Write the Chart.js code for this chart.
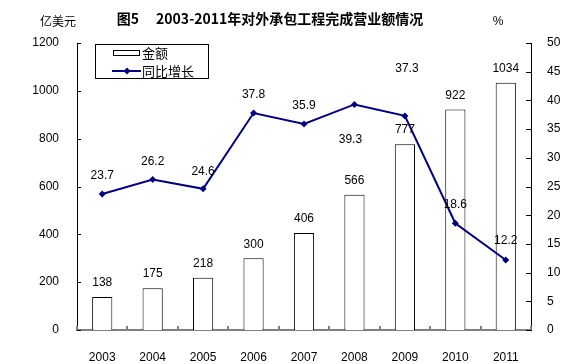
<!DOCTYPE html>
<html>
<head>
<meta charset="utf-8">
<script src="https://cdn.jsdelivr.net/npm/chart.js@4/dist/chart.umd.min.js"></script>
<style>
html,body{margin:0;padding:0;background:#fff;}
canvas{display:block;}
</style>
</head>
<body>
<canvas id="c" width="568" height="364"></canvas>
<script>
const years = ['2003','2004','2005','2006','2007','2008','2009','2010','2011'];
const amounts = [138,175,218,300,406,566,777,922,1034];
const growth = [23.7,26.2,24.6,37.8,35.9,39.3,37.3,18.6,12.2];
const leftTicks = [0,200,400,600,800,1000,1200];
const rightTicks = [0,5,10,15,20,25,30,35,40,45,50];
const titleText = '图5\u3000 2003-2011年对外承包工程完成营业额情况';
const leftUnit = '亿美元';
const rightUnit = '%';
const seriesNames = ['金额','同比增长'];

// label placement offsets (style, not data)
const growthLabelDx = [0,0,0,0,0,-4,2,0,0];
const growthLabelDy = [-18,-18,-17,-18,-18,35,-47,-19,-19];

const NUM_FONT = '12px "Liberation Sans", Arial, sans-serif';
const CJK_FONT = '"Noto Sans CJK SC", sans-serif';

const decorPlugin = {
  id: 'decor',
  afterDraw(chart) {
    const ctx = chart.ctx;
    const a = chart.chartArea;
    ctx.save();
    const y = chart.scales.y, y1 = chart.scales.y1;
    ctx.strokeStyle = '#000';
    ctx.lineWidth = 1;
    ctx.beginPath();
    leftTicks.forEach(v => {
      const py = Math.round(y.getPixelForValue(v)) + 0.5;
      ctx.moveTo(a.left, py); ctx.lineTo(a.left + 4, py);
    });
    rightTicks.forEach(v => {
      const py = Math.round(y1.getPixelForValue(v)) + 0.5;
      ctx.moveTo(a.right - 5, py); ctx.lineTo(a.right, py);
    });
    ctx.stroke();
    ctx.strokeStyle = '#808080';
    ctx.lineWidth = 2;
    ctx.beginPath();
    const n = years.length;
    for (let i = 0; i <= n; i++) {
      const px = Math.round(a.left + i * (a.right - a.left) / n);
      ctx.moveTo(px, a.bottom); ctx.lineTo(px, a.bottom - 4);
    }
    ctx.stroke();

    ctx.fillStyle = '#000';
    ctx.font = NUM_FONT;
    ctx.textAlign = 'center';
    ctx.textBaseline = 'middle';
    chart.getDatasetMeta(0).data.forEach((el, i) => {
      ctx.fillText(String(amounts[i]), el.x, el.y - 14);
    });
    chart.getDatasetMeta(1).data.forEach((el, i) => {
      ctx.fillText(growth[i].toFixed(1), el.x + growthLabelDx[i], el.y + growthLabelDy[i]);
    });

    ctx.font = 'bold 14px ' + CJK_FONT;
    ctx.fillText(titleText, 270, 19);
    ctx.font = '12px ' + CJK_FONT;
    ctx.fillText(leftUnit, 58, 21);
    ctx.font = NUM_FONT;
    ctx.fillText(rightUnit, 498, 22);

    ctx.strokeStyle = '#000';
    ctx.lineWidth = 1;
    ctx.fillStyle = '#fff';
    ctx.fillRect(95.5, 44.5, 113, 34);
    ctx.strokeRect(95.5, 44.5, 113, 34);
    ctx.strokeRect(113.5, 50.5, 26, 5);
    ctx.fillStyle = '#000';
    ctx.textAlign = 'left';
    ctx.font = '13px ' + CJK_FONT;
    ctx.fillText(seriesNames[0], 142, 53);
    ctx.fillText(seriesNames[1], 142, 71);
    ctx.strokeStyle = '#000080';
    ctx.lineWidth = 2;
    ctx.beginPath(); ctx.moveTo(112, 71); ctx.lineTo(141, 71); ctx.stroke();
    ctx.fillStyle = '#000080';
    ctx.beginPath();
    ctx.moveTo(127, 67.5); ctx.lineTo(130.5, 71); ctx.lineTo(127, 74.5); ctx.lineTo(123.5, 71); ctx.closePath();
    ctx.fill();
    ctx.restore();
  }
};

const plainTick = v => String(v);

new Chart(document.getElementById('c'), {
  data: {
    labels: years,
    datasets: [
      {
        type: 'bar',
        label: seriesNames[0],
        data: amounts,
        yAxisID: 'y',
        backgroundColor: '#ffffff',
        borderColor: '#000000',
        borderWidth: 1,
        categoryPercentage: 1.0,
        barPercentage: 0.4,
        order: 2
      },
      {
        type: 'line',
        label: seriesNames[1],
        data: growth,
        yAxisID: 'y1',
        borderColor: '#000080',
        backgroundColor: '#000080',
        borderWidth: 2,
        pointStyle: 'rectRot',
        pointRadius: 3.5,
        pointBackgroundColor: '#000080',
        pointBorderColor: '#000080',
        pointBorderWidth: 0,
        tension: 0,
        order: 1
      }
    ]
  },
  options: {
    responsive: false,
    animation: false,
    devicePixelRatio: 1,
    layout: { padding: { top: 43, left: 0, right: 0, bottom: 0 } },
    plugins: { legend: { display: false }, tooltip: { enabled: false }, title: { display: false } },
    scales: {
      x: {
        type: 'category',
        offset: true,
        grid: { display: false },
        border: { display: true, color: '#808080', width: 2 },
        ticks: { color: '#000', font: { family: '"Liberation Sans", Arial, sans-serif', size: 12 }, padding: 12, maxRotation: 0 },
        afterFit(s) { s.height = 34; }
      },
      y: {
        position: 'left',
        min: 0, max: 1200,
        afterBuildTicks(s) { s.ticks = leftTicks.map(v => ({ value: v })); },
        grid: { display: false },
        border: { display: true, color: '#000', width: 1 },
        ticks: { color: '#000', font: { family: '"Liberation Sans", Arial, sans-serif', size: 12 }, padding: 10, callback: plainTick },
        afterFit(s) { s.width = 77; }
      },
      y1: {
        position: 'right',
        min: 0, max: 50,
        afterBuildTicks(s) { s.ticks = rightTicks.map(v => ({ value: v })); },
        grid: { display: false },
        border: { display: true, color: '#000', width: 1 },
        ticks: { color: '#000', font: { family: '"Liberation Sans", Arial, sans-serif', size: 12 }, padding: 8, callback: plainTick },
        afterFit(s) { s.width = 37; }
      }
    }
  },
  plugins: [decorPlugin]
});
</script>
</body>
</html>
